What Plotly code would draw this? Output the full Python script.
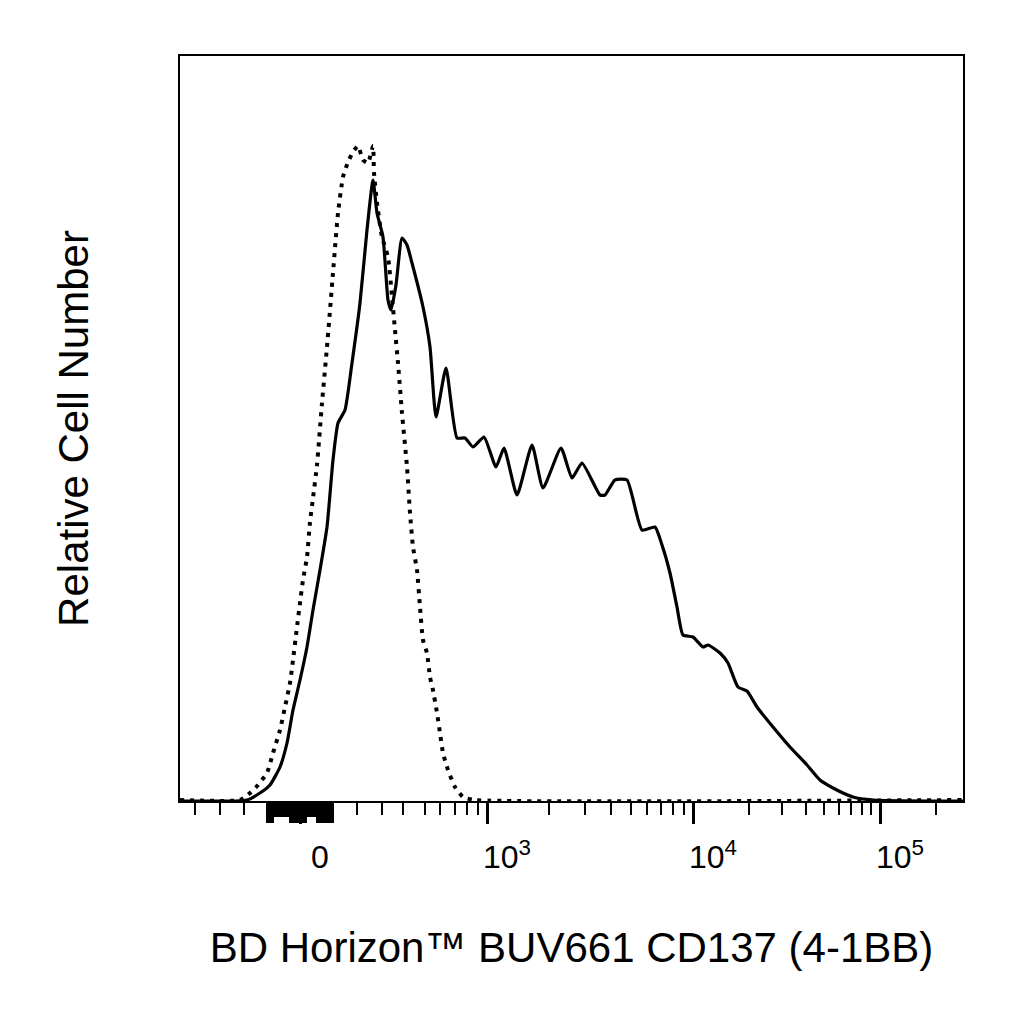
import numpy as np
import plotly.graph_objects as go

# histogram channels (display scale, 0..783) and relative counts
ch_stained = [0, 67, 80, 90, 100, 107, 113, 120, 127, 133, 140, 147, 153, 158, 165, 172, 180, 187, 193,
              197, 203, 208, 211, 216, 222, 227, 232, 243, 250, 256, 266, 277, 285, 293, 304, 316, 324,
              337, 352, 363, 381, 392, 402, 420, 425, 435, 447, 462, 475, 482, 490, 497, 503, 513, 523,
              528, 540, 548, 558, 567, 577, 593, 610, 627, 640, 653, 673, 693, 783]
cnt_stained = [0, 1, 8, 16, 34, 58, 91, 121, 154, 191, 231, 274, 341, 378, 391, 438, 498, 571, 621,
               588, 564, 501, 491, 516, 563, 556, 538, 494, 454, 384, 433, 363, 363, 354, 364, 334, 353,
               306, 356, 313, 353, 323, 338, 306, 306, 321, 321, 271, 274, 256, 228, 194, 166, 164, 154,
               156, 148, 138, 114, 110, 94, 74, 54, 36, 21, 13, 4, 1, 0]

ch_isotype = [0, 60, 70, 78, 87, 93, 100, 105, 110, 113, 117, 120, 123, 127, 130, 133, 137, 142, 147,
              153, 158, 163, 168, 173, 178, 183, 188, 193, 194, 197, 202, 208, 212, 215, 218, 222, 227,
              230, 233, 237, 240, 243, 247, 250, 253, 257, 260, 263, 268, 275, 283, 295, 783]
cnt_isotype = [1, 1, 8, 16, 28, 48, 71, 94, 118, 141, 174, 198, 221, 244, 279, 303, 336, 398, 454,
               528, 588, 624, 639, 649, 655, 641, 638, 655, 628, 598, 564, 544, 504, 471, 438, 388, 334,
               288, 254, 231, 194, 161, 148, 124, 111, 88, 68, 48, 31, 14, 4, 1, 1]

# axis ticks (channel positions of decades)
decade_ch = [120, 307, 513, 700]
decade_lbl = ["0", "10<sup>3</sup>", "10<sup>4</sup>", "10<sup>5</sup>"]
lin_minor = [15, 40, 64, 177, 202, 223, 245, 260, 275, 287, 298]
block_long = [(87, 92), (110, 125), (137, 152)]
block_mid = [(92, 110), (125, 137)]

minor = list(lin_minor)
for lo, hi in zip(decade_ch[1:-1], decade_ch[2:]):
    for k in range(2, 10):
        minor.append(lo + np.log10(k) * (hi - lo))
minor.append(decade_ch[-1] + np.log10(2) * (decade_ch[-1] - decade_ch[-2]))

longs = []
for lo, hi in block_long:
    longs += list(np.arange(lo, hi + 0.1, 1.0))
mid = []
for lo, hi in block_mid:
    mid += list(np.arange(lo, hi + 0.1, 1.0))

font = "Liberation Sans"

fig = go.Figure()
fig.add_trace(go.Scatter(x=ch_isotype, y=cnt_isotype, mode="lines", hoverinfo="skip",
                         line=dict(color="black", width=4, dash="4px,6px", shape="spline", smoothing=0.5)))
fig.add_trace(go.Scatter(x=ch_stained, y=cnt_stained, mode="lines", hoverinfo="skip",
                         line=dict(color="black", width=3.2, shape="spline", smoothing=0.5)))
# carrier traces so the extra tick rows get drawn
for ax in ["x2", "x3"]:
    fig.add_trace(go.Scatter(x=[0], y=[0], xaxis=ax, mode="markers", hoverinfo="skip",
                             marker=dict(size=1, opacity=0)))

extra = dict(overlaying="x", matches="x", anchor="y", side="bottom",
             showgrid=False, zeroline=False, showline=False,
             ticks="outside", tickwidth=3, tickcolor="black", showticklabels=False)

fig.update_layout(
    width=1024, height=1024,
    margin=dict(l=172, r=69, t=48, b=231),
    plot_bgcolor="white", paper_bgcolor="white",
    showlegend=False,
    font=dict(family=font, color="black"),
    xaxis=dict(range=[0, 783], showgrid=False, zeroline=False,
               showline=True, mirror=True, linecolor="black", linewidth=2,
               ticks="outside", tickvals=decade_ch, ticktext=decade_lbl,
               ticklen=21, tickwidth=3, tickcolor="black", tickangle=0,
               ticklabelshift=20, ticklabelstandoff=6,
               tickfont=dict(size=32, family=font, color="black"),
               minor=dict(tickvals=minor, ticks="outside", ticklen=12, tickwidth=2, tickcolor="black"),
               title=dict(text="BD Horizon™ BUV661 CD137 (4-1BB)", font=dict(size=42), standoff=58)),
    xaxis2=dict(extra, tickvals=mid, ticklen=15),
    xaxis3=dict(extra, tickvals=longs, ticklen=21),
    yaxis=dict(range=[0, 745], showgrid=False, zeroline=False,
               showline=True, mirror=True, linecolor="black", linewidth=2,
               ticks="", showticklabels=False,
               title=dict(text="Relative Cell Number", font=dict(size=42), standoff=76)),
)

fig.write_html("out.html")
